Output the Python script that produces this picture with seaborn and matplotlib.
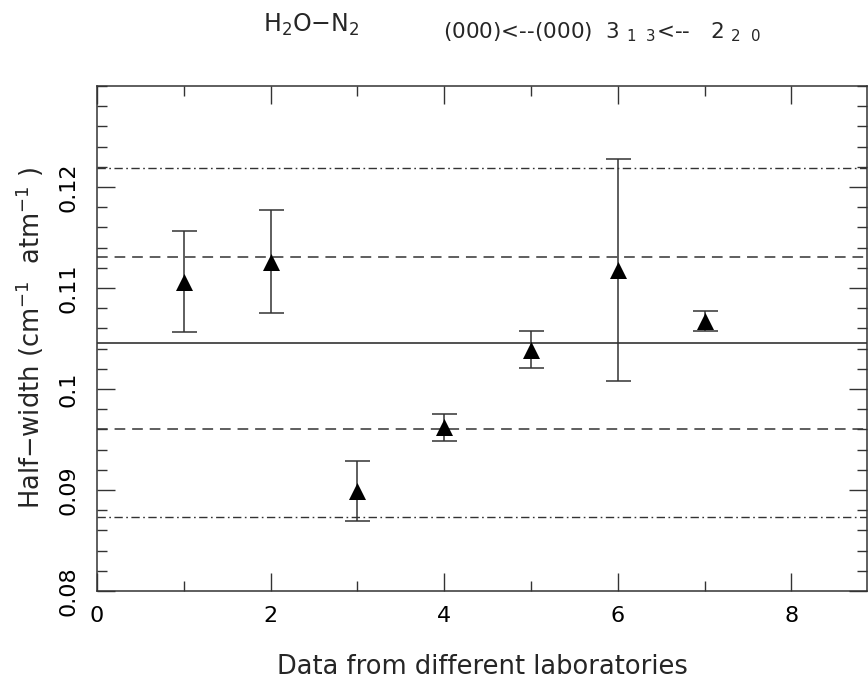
import numpy as np
import pandas as pd
import matplotlib
matplotlib.use("Agg")
import matplotlib.pyplot as plt
from matplotlib.ticker import MultipleLocator
import seaborn as sns

# values
labs = [1, 2, 3, 4, 5, 6, 7]
half_width = [0.1106, 0.1126, 0.0899, 0.0962, 0.1039, 0.1118, 0.1067]
half_width_err = [0.0050, 0.0051, 0.0030, 0.0013, 0.0018, 0.0110, 0.0010]

mean_line = 0.1046
sigma_lines = [0.0960, 0.1131]
two_sigma_lines = [0.0873, 0.1219]

sns.set_style("ticks")
plt.rcParams["font.family"] = ["DejaVu Sans"]

df = pd.DataFrame({"lab": labs, "hw": half_width, "err": half_width_err})

fig = plt.figure(figsize=(8.68, 6.80), dpi=100)
ax = fig.add_axes([0.1118, 0.1309, 0.8870, 0.7426])

ax.errorbar(df["lab"], df["hw"], yerr=df["err"], fmt="none", ecolor="#333333",
            elinewidth=1.1, capsize=9, capthick=1.1, zorder=2)
sns.scatterplot(data=df, x="lab", y="hw", marker="^", s=150, color="black",
                edgecolor="black", linewidth=0, ax=ax, zorder=3)

ax.axhline(mean_line, color="#222222", lw=1.1, ls="-", zorder=1)
for v in sigma_lines:
    ax.axhline(v, color="#333333", lw=1.1, ls=(0, (7, 4.5)), zorder=1)
for v in two_sigma_lines:
    ax.axhline(v, color="#333333", lw=1.0, ls=(0, (6, 2.5, 1.2, 2.5)), zorder=1)

ax.set_xlim(0, 8.87)
ax.set_ylim(0.08, 0.13)
ax.xaxis.set_major_locator(MultipleLocator(2))
ax.xaxis.set_minor_locator(MultipleLocator(1))
ax.yaxis.set_major_locator(MultipleLocator(0.01))
ax.yaxis.set_minor_locator(MultipleLocator(0.002))
ax.set_yticks([0.08, 0.09, 0.10, 0.11, 0.12])
ax.set_yticklabels(["0.08", "0.09", "0.1", "0.11", "0.12"], rotation=90, va="center")
ax.set_xticks([0, 2, 4, 6, 8])
ax.set_xticklabels(["0", "2", "4", "6", "8"])

ax.tick_params(which="both", direction="in", top=True, right=True, colors="#333333",
               labelcolor="black", labelsize=16, width=1)
ax.tick_params(which="major", length=13)
ax.tick_params(which="minor", length=7)
ax.tick_params(axis="x", pad=11)
ax.tick_params(axis="y", pad=13)
for s in ax.spines.values():
    s.set_color("#333333")
    s.set_linewidth(1.1)

ax.set_xlabel("Data from different laboratories", fontsize=18.5, labelpad=20)
ax.set_ylabel(r"Half$-$width (cm$^{-1}$  atm$^{-1}$ )", fontsize=18.5, labelpad=9)

fig.text(0.303, 0.953, r"H$_2$O$-$N$_2$", fontsize=17, va="baseline", ha="left")
fig.text(0.510, 0.944, r"(000)<--(000)  3 $_{1\ \ 3}$<--   2 $_{2\ \ 0}$", fontsize=15.5,
         va="baseline", ha="left")

fig.savefig("out.png", dpi=100)
